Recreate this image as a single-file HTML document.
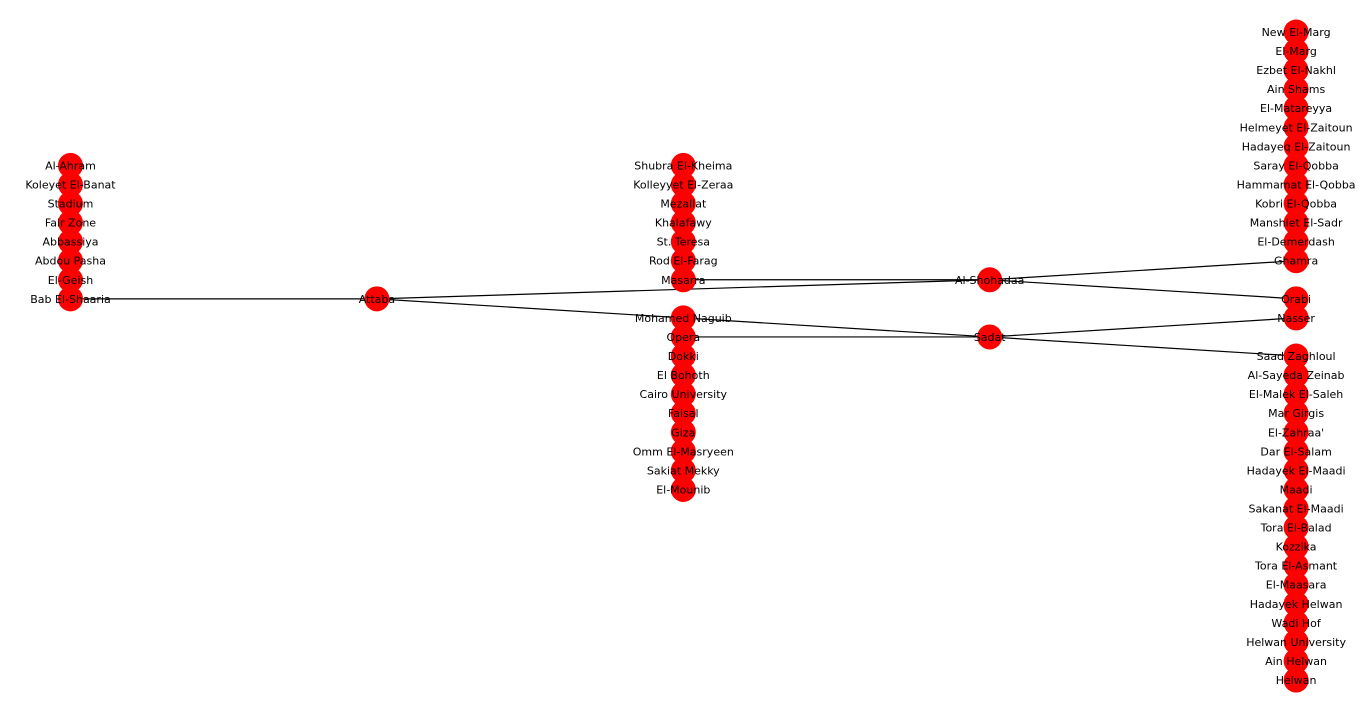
<!DOCTYPE html>
<html><head><meta charset="utf-8">
<style>
html,body{margin:0;padding:0;background:#fff;}
svg{display:block;}
text{font-family:"DejaVu Sans","Liberation Sans",sans-serif;font-size:11px;fill:#000;}
</style></head>
<body>
<svg id="chart" width="1366" height="712" viewBox="0 0 1366 712">
<g id="edges"></g>
<g id="nodes"></g>
<g id="labels"></g>
</svg>
<script>
const colA = ["Al-Ahram","Koleyet El-Banat","Stadium","Fair Zone","Abbassiya","Abdou Pasha","El-Geish","Bab El-Shaaria"];
const colARows = [7,8,9,10,11,12,13,14];
const colB = ["Attaba"];
const colBRows = [14];
const colC = ["Shubra El-Kheima","Kolleyyet El-Zeraa","Mezallat","Khalafawy","St. Teresa","Rod El-Farag","Masarra","Mohamed Naguib","Opera","Dokki","El Bohoth","Cairo University","Faisal","Giza","Omm El-Masryeen","Sakiat Mekky","El-Mounib"];
const colCRows = [7,8,9,10,11,12,13,15,16,17,18,19,20,21,22,23,24];
const colD = ["Al-Shohadaa","Sadat"];
const colDRows = [13,16];
const colE = ["New El-Marg","El-Marg","Ezbet El-Nakhl","Ain Shams","El-Matareyya","Helmeyet El-Zaitoun","Hadayeq El-Zaitoun","Saray El-Qobba","Hammamat El-Qobba","Kobri El-Qobba","Manshiet El-Sadr","El-Demerdash","Ghamra","Orabi","Nasser","Saad Zaghloul","Al-Sayeda Zeinab","El-Malek El-Saleh","Mar Girgis","El-Zahraa'","Dar El-Salam","Hadayek El-Maadi","Maadi","Sakanat El-Maadi","Tora El-Balad","Kozzika","Tora El-Asmant","El-Maasara","Hadayek Helwan","Wadi Hof","Helwan University","Ain Helwan","Helwan"];
const colERows = [0,1,2,3,4,5,6,7,8,9,10,11,12,14,15,17,18,19,20,21,22,23,24,25,26,27,28,29,30,31,32,33,34];
const edgeFrom = ["Bab El-Shaaria","Attaba","Attaba","Masarra","Opera","Al-Shohadaa","Al-Shohadaa","Sadat","Sadat"];
const edgeTo   = ["Attaba","Al-Shohadaa","Sadat","Al-Shohadaa","Sadat","Ghamra","Orabi","Nasser","Saad Zaghloul"];

const xCol = c => 70.5 + c * 306.4;
const yRow = r => 32 + r * 19.06;
const pos = {};
[[colA,colARows],[colB,colBRows],[colC,colCRows],[colD,colDRows],[colE,colERows]].forEach(([names,rows],c)=>{
  names.forEach((n,i)=>{pos[n]=[xCol(c),yRow(rows[i])];});
});
const NS="http://www.w3.org/2000/svg";
const eg=document.getElementById('edges'), ng=document.getElementById('nodes'), lg=document.getElementById('labels');
edgeFrom.forEach((f,i)=>{
  const a=pos[f], b=pos[edgeTo[i]];
  const l=document.createElementNS(NS,'line');
  l.setAttribute('x1',a[0]);l.setAttribute('y1',a[1]);l.setAttribute('x2',b[0]);l.setAttribute('y2',b[1]);
  l.setAttribute('stroke','#000');l.setAttribute('stroke-width','1.2');
  
  
  eg.appendChild(l);
});
Object.keys(pos).forEach(n=>{
  const [x,y]=pos[n];
  const c=document.createElementNS(NS,'circle');
  c.setAttribute('cx',x);c.setAttribute('cy',y);c.setAttribute('r',12.5);c.setAttribute('fill','#ff0000');
  
  
  ng.appendChild(c);
  const t=document.createElementNS(NS,'text');
  t.setAttribute('x',x);t.setAttribute('y',y+4);t.setAttribute('text-anchor','middle');
  t.textContent=n;
  
  
  lg.appendChild(t);
});
</script>
</body></html>
